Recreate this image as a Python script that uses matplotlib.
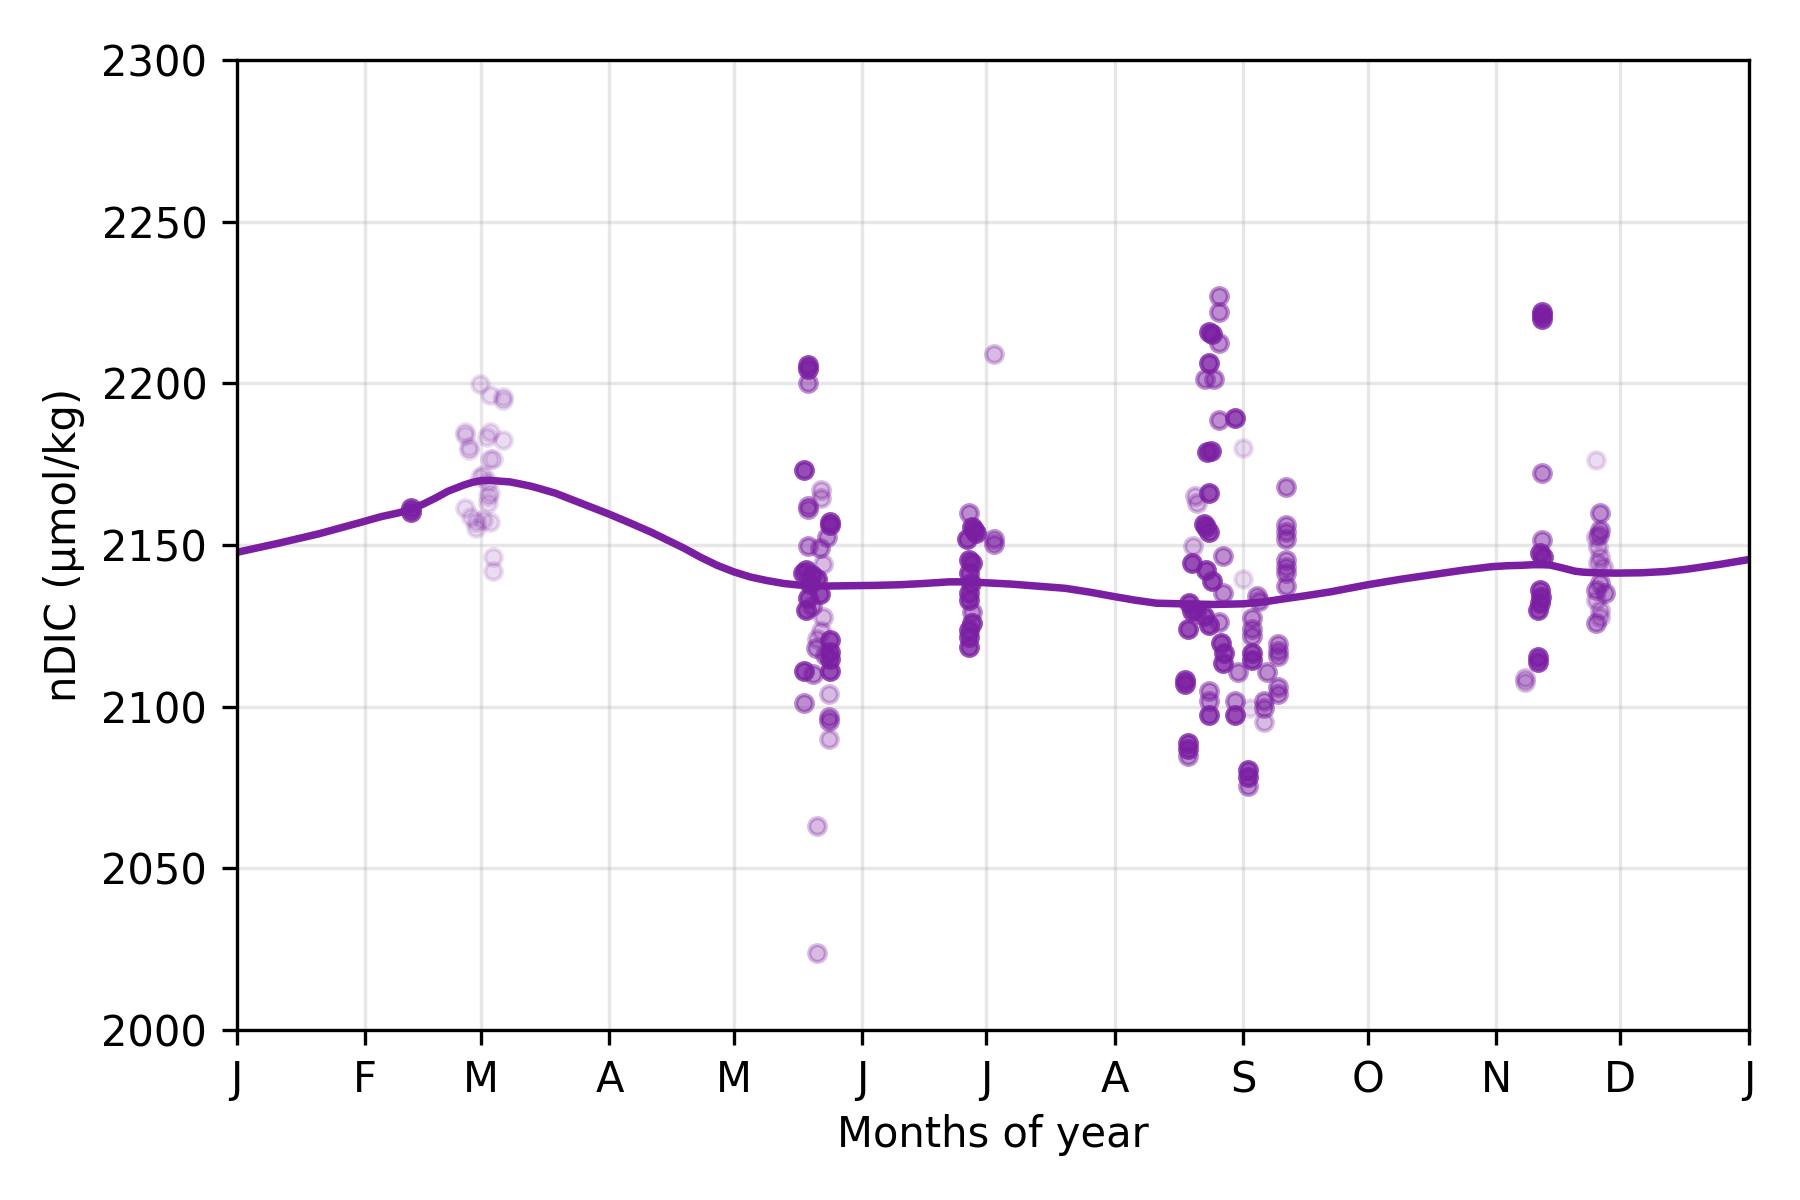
import numpy as np
import matplotlib.pyplot as plt

purple = '#7B1FA2'

# seasonal fit (day of year, nDIC)
fit_day = [0, 10, 20, 30, 35, 39, 42, 45, 48, 51, 55, 57, 59, 61, 63, 66, 68, 71, 73, 77, 80,
           85, 90, 95, 100, 104, 108, 112, 116, 120, 124, 128, 132, 135, 138, 143, 148, 154,
           160, 166, 172, 177, 181, 187, 192, 196, 200, 206, 212, 217, 222, 228, 236, 243,
           248, 252, 258, 264, 273, 281, 289, 296, 303, 307, 310, 313, 315, 317, 318, 320,
           323, 325, 328, 333, 339, 345, 350, 358, 365]
fit_val = [2147.7, 2150.5, 2153.5, 2157.0, 2158.8, 2159.9, 2161.0, 2162.6, 2164.5, 2166.6,
           2168.6, 2169.4, 2169.9, 2170.0, 2169.8, 2169.5, 2169.0, 2168.2, 2167.5, 2166.0,
           2164.5, 2162.0, 2159.5, 2156.8, 2154.0, 2151.5, 2149.0, 2146.2, 2143.7, 2141.7,
           2140.1, 2139.0, 2138.1, 2137.7, 2137.4, 2137.3, 2137.4, 2137.5, 2137.7, 2138.1,
           2138.6, 2138.6, 2138.3, 2137.9, 2137.4, 2137.0, 2136.6, 2135.4, 2134.0, 2132.9,
           2132.0, 2131.8, 2131.6, 2131.8, 2132.4, 2133.2, 2134.3, 2135.5, 2137.7, 2139.4,
           2140.9, 2142.2, 2143.3, 2143.6, 2143.7, 2143.9, 2143.9, 2143.8, 2143.5, 2142.9,
           2141.9, 2141.6, 2141.4, 2141.3, 2141.4, 2141.8, 2142.5, 2144.0, 2145.5]

# observations, grouped by how opaque they are drawn
dark_day = [42, 42.2,
            137.9, 137.9, 136.9, 143.2, 143.2, 136.7, 137.5, 139, 140, 138.5, 137.9, 140.7,
            137.5, 143.2, 143.2, 143.2, 136.9, 143.2,
            177.6, 178, 178.4, 176.4, 176.8, 177.6, 176.8, 177.2, 176.8, 176.8, 177.6, 176.8,
            176.8, 176.8,
            234.7, 235.5, 234.7, 240.9, 234.3, 235.1, 234.7, 233.9, 234.7, 233.5, 230.5, 233.9,
            235.5, 229.8, 231.5, 233.5, 230.5, 234.7, 229.7, 237.6, 238.4, 238, 245.1, 245.1,
            228.8, 228.8, 234.7, 240.9, 229.7, 229.7, 244.2, 244.2,
            315.1, 315.1, 315.1, 314.5, 315.3, 314.5, 314.9, 314.5, 314.1, 314.1, 314.1]
dark_val = [2161.5, 2160.3,
            2205.7, 2204.5, 2173.1, 2156.1, 2157.2, 2141.3, 2142.2, 2140.7, 2139.5, 2138.0,
            2133.6, 2134.8, 2130.0, 2120.5, 2117.0, 2114.6, 2111.0, 2111.0,
            2155.7, 2154.6, 2153.6, 2152.0, 2145.4, 2144.3, 2141.2, 2138.1, 2135.0, 2133.0,
            2125.8, 2123.7, 2121.6, 2118.6,
            2215.8, 2215.2, 2206.4, 2189.3, 2178.7, 2179.0, 2166.2, 2155.5, 2153.9, 2156.5,
            2144.3, 2142.2, 2139.0, 2132.0, 2130.0, 2128.0, 2129.5, 2125.2, 2124.1, 2119.8,
            2116.6, 2113.4, 2116.6, 2114.5, 2108.1, 2107.0, 2097.4, 2097.4, 2088.9, 2086.8,
            2080.4, 2078.3,
            2222.2, 2221.1, 2220.0, 2147.4, 2146.4, 2136.1, 2134.0, 2132.0, 2129.9, 2115.5,
            2113.9]

mid_day = [137.9, 137.9, 137.9, 142.5, 137.9, 140.7, 139, 139.9, 142, 139.2, 143, 143, 136.9,
           176.8, 177.6, 182.9, 182.9,
           237, 237, 237.2, 233.7, 235.9, 237, 253.4, 253.4, 253.4, 253.4, 238, 253.4, 253.4,
           253.4, 253.4, 238, 246.3, 246.7, 237.2, 245.1, 245.1, 245.1, 251.3, 251.3, 251.3,
           241.7, 248.8, 234.7, 234.7, 251.3, 251.3, 240.9, 248, 248, 244.2, 229.7,
           315.1, 315.1, 329, 329, 328.8, 329, 328.2, 330.2, 328.2]
mid_val = [2200.0, 2162.0, 2161.0, 2152.5, 2149.6, 2149.0, 2131.0, 2118.0, 2116.0, 2110.0,
           2096.8, 2095.6, 2101.2,
           2160.0, 2129.4, 2152.0, 2150.2,
           2227.0, 2222.2, 2212.6, 2201.4, 2201.4, 2188.6, 2167.8, 2156.1, 2153.9, 2151.8,
           2146.7, 2145.4, 2143.3, 2141.2, 2137.4, 2135.3, 2134.2, 2132.6, 2126.2, 2127.3,
           2124.1, 2122.0, 2119.3, 2117.2, 2115.6, 2110.8, 2110.8, 2104.9, 2101.7, 2106.0,
           2103.8, 2101.7, 2101.7, 2099.6, 2075.6, 2084.7,
           2172.4, 2151.5, 2159.8, 2154.6, 2153.1, 2138.1, 2136.1, 2135.1, 2125.8]

light_day = [141.1, 141.1, 141.5, 141.5, 141.1, 140, 143, 143, 140.2, 140.2,
             182.9,
             231.4, 231.8, 230.9, 248,
             328.2, 328.6, 329, 328.6, 329.8, 328.2, 329, 329, 310.9, 310.9]
light_val = [2167.0, 2164.4, 2144.0, 2127.6, 2123.5, 2121.0, 2104.0, 2090.0, 2063.0, 2023.8,
             2209.1,
             2165.1, 2163.0, 2149.7, 2095.3,
             2152.6, 2149.5, 2146.4, 2144.3, 2143.3, 2133.0, 2129.9, 2127.8, 2108.8, 2107.7]

faint_day = [58.8, 61.2, 64.2, 64.2, 55.1, 55.1, 61.2, 60.4, 64.2, 56.2, 56, 62, 61.2, 58.8,
             59.6, 60.8, 60.8, 61.2, 60.8, 55.1, 56.7, 57.9, 59.6, 61.2, 57.9, 62, 62,
             243, 243, 244.7,
             328]
faint_val = [2199.8, 2196.4, 2195.9, 2194.8, 2185.0, 2184.0, 2185.0, 2183.3, 2182.5, 2180.2,
             2179.4, 2176.6, 2176.6, 2171.1, 2171.6, 2169.6, 2165.0, 2166.0, 2162.9, 2161.3,
             2158.8, 2157.2, 2157.7, 2157.2, 2155.2, 2146.4, 2142.1,
             2180.0, 2139.6, 2099.6,
             2176.3]

month_start = [0, 31, 59, 90, 120, 151, 181, 212, 243, 273, 304, 334, 365]
month_lab = ['J', 'F', 'M', 'A', 'M', 'J', 'J', 'A', 'S', 'O', 'N', 'D', 'J']

fig, ax = plt.subplots(figsize=(6, 4), dpi=300)
fig.subplots_adjust(left=0.1314, right=0.9716, top=0.95, bottom=0.1417)

ax.plot(fit_day, fit_val, color=purple, lw=1.8, zorder=2)

groups = [(faint_day, faint_val, 0.15), (light_day, light_val, 0.3),
          (mid_day, mid_val, 0.5), (dark_day, dark_val, 0.8)]
for d, v, a in groups:
    ax.scatter(d, v, s=16, color=purple, alpha=a, zorder=3)

ax.set_xlim(0, 365)
ax.set_ylim(2000, 2300)
ax.set_xticks(month_start)
ax.set_xticklabels(month_lab)
ax.set_yticks(np.arange(2000, 2301, 50))
ax.grid(True, alpha=0.3)
ax.set_axisbelow(True)
ax.set_xlabel('Months of year', labelpad=3)
ax.set_ylabel('nDIC (µmol/kg)')

plt.savefig('out.png', dpi=300)
